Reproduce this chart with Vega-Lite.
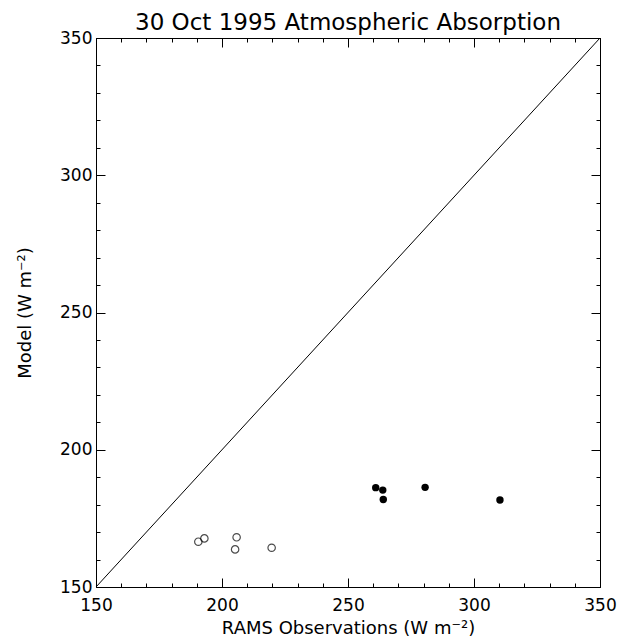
{
  "$schema": "https://vega.github.io/schema/vega-lite/v6.json",
  "autosize": {"type": "none"},
  "padding": {"left": 96, "top": 38, "right": 18, "bottom": 51},
  "width": 504,
  "height": 549,
  "background": "white",
  "config": {
    "font": "DejaVu Sans",
    "view": {"stroke": "black", "strokeWidth": 1},
    "axis": {"domainColor": "black", "tickColor": "black", "labelColor": "black", "titleColor": "black", "grid": false, "labelFont": "DejaVu Sans", "titleFont": "DejaVu Sans", "titleFontWeight": "normal", "labelFontSize": 17, "titleFontSize": 18, "labelFlush": false, "labelOverlap": false}
  },
  "title": {"text": "30 Oct 1995 Atmospheric Absorption", "fontSize": 23, "fontWeight": "normal", "font": "DejaVu Sans", "color": "black", "offset": -6, "anchor": "middle"},
  "datasets": {
    "diag": [{"obs": 150, "model": 150}, {"obs": 350, "model": 350}],
    "open": [
      {"obs": 190.6, "model": 166.5},
      {"obs": 193.0, "model": 167.7},
      {"obs": 205.8, "model": 168.1},
      {"obs": 205.2, "model": 163.7},
      {"obs": 219.7, "model": 164.3}
    ],
    "filled": [
      {"obs": 261.0, "model": 186.2},
      {"obs": 263.8, "model": 185.3},
      {"obs": 264.0, "model": 181.9},
      {"obs": 280.6, "model": 186.3},
      {"obs": 310.3, "model": 181.7}
    ]
  },
  "layer": [
    {
      "data": {"name": "diag"},
      "mark": {"type": "line", "color": "black", "strokeWidth": 1},
      "encoding": {
        "x": {"field": "obs", "type": "quantitative", "scale": {"domain": [150, 350], "nice": false, "zero": false},
          "axis": {"orient": "bottom", "title": "RAMS Observations (W m⁻²)", "values": [150, 200, 250, 300, 350],
            "tickSize": -9, "labelPadding": 19, "titlePadding": 6}},
        "y": {"field": "model", "type": "quantitative", "scale": {"domain": [150, 350], "nice": false, "zero": false},
          "axis": {"orient": "left", "title": "Model (W m⁻²)", "values": [150, 200, 250, 300, 350],
            "tickSize": -9, "labelPadding": 13, "titlePadding": 25}}
      }
    },
    {
      "data": {"name": "diag"},
      "mark": {"type": "line", "opacity": 0},
      "encoding": {
        "x": {"field": "obs", "type": "quantitative",
          "axis": {"orient": "bottom", "title": null, "labels": false, "domain": false, "values": [160,170,180,190,210,220,230,240,260,270,280,290,310,320,330,340], "tickSize": -4}},
        "y": {"field": "model", "type": "quantitative",
          "axis": {"orient": "left", "title": null, "labels": false, "domain": false, "values": [160,170,180,190,210,220,230,240,260,270,280,290,310,320,330,340], "tickSize": -4}}
      }
    },
    {
      "data": {"name": "diag"},
      "mark": {"type": "line", "opacity": 0},
      "encoding": {
        "x": {"field": "obs", "type": "quantitative",
          "axis": {"orient": "top", "title": null, "labels": false, "values": [150, 200, 250, 300, 350], "tickSize": -9}},
        "y": {"field": "model", "type": "quantitative",
          "axis": {"orient": "right", "title": null, "labels": false, "values": [150, 200, 250, 300, 350], "tickSize": -9}}
      }
    },
    {
      "data": {"name": "diag"},
      "mark": {"type": "line", "opacity": 0},
      "encoding": {
        "x": {"field": "obs", "type": "quantitative",
          "axis": {"orient": "top", "title": null, "labels": false, "domain": false, "values": [160,170,180,190,210,220,230,240,260,270,280,290,310,320,330,340], "tickSize": -4}},
        "y": {"field": "model", "type": "quantitative",
          "axis": {"orient": "right", "title": null, "labels": false, "domain": false, "values": [160,170,180,190,210,220,230,240,260,270,280,290,310,320,330,340], "tickSize": -4}}
      }
    },
    {
      "data": {"name": "open"},
      "mark": {"type": "point", "shape": "circle", "filled": false, "color": "black", "strokeWidth": 1.2, "size": 55},
      "encoding": {
        "x": {"field": "obs", "type": "quantitative", "axis": null},
        "y": {"field": "model", "type": "quantitative", "axis": null}
      }
    },
    {
      "data": {"name": "filled"},
      "mark": {"type": "circle", "color": "black", "opacity": 1, "size": 55},
      "encoding": {
        "x": {"field": "obs", "type": "quantitative", "axis": null},
        "y": {"field": "model", "type": "quantitative", "axis": null}
      }
    }
  ],
  "resolve": {"axis": {"x": "independent", "y": "independent"}}
}
